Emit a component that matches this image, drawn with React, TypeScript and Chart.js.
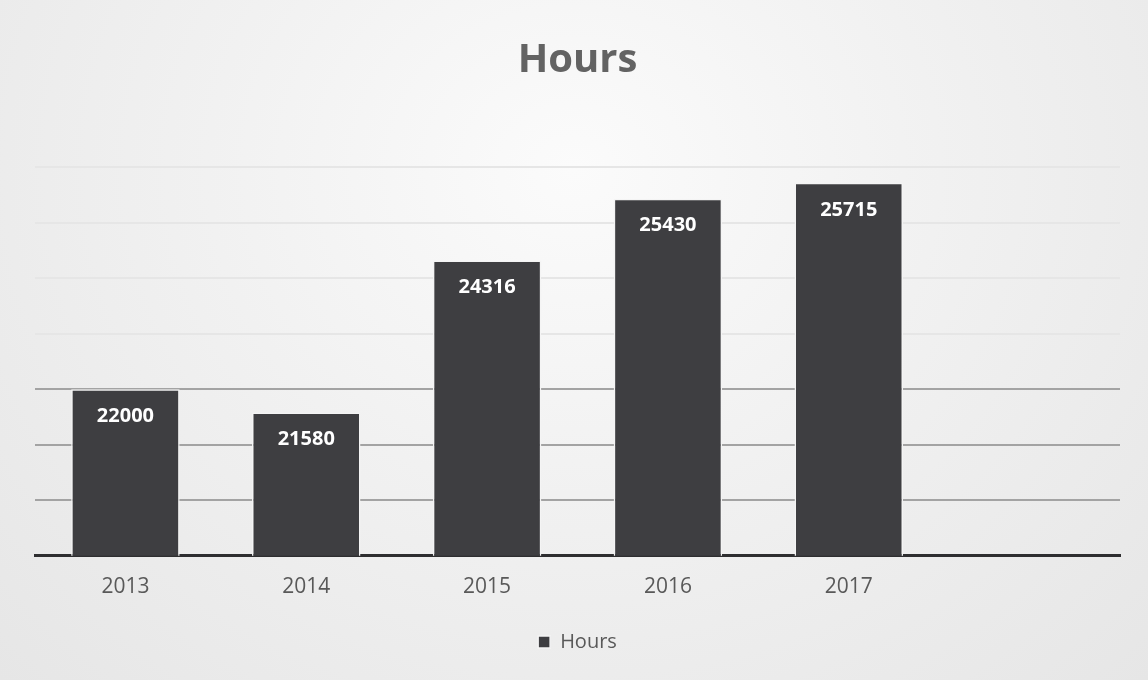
import React, { useEffect, useRef } from "react";
import { Chart, registerables } from "chart.js";

Chart.register(...registerables);

const categories: string[] = ["2013", "2014", "2015", "2016", "2017", ""];
const hoursValues: (number | null)[] = [22000, 21580, 24316, 25430, 25715, null];
const seriesName = "Hours";
const chartTitle = "Hours";
const axisMin = 19000;
const axisMax = 26000;
const axisStep = 1000;

const FONT = "'Open Sans', 'DejaVu Sans', sans-serif";

const dataLabelPlugin = {
  id: "barValueLabels",
  afterDatasetsDraw(chart: any) {
    const ctx = chart.ctx;
    chart.data.datasets.forEach((ds: any, di: number) => {
      const meta = chart.getDatasetMeta(di);
      meta.data.forEach((bar: any, i: number) => {
        const v = ds.data[i];
        if (v === null || v === undefined) return;
        ctx.save();
        ctx.fillStyle = "#ffffff";
        ctx.font = `bold 20px ${FONT}`;
        ctx.textAlign = "center";
        ctx.textBaseline = "middle";
        ctx.fillText(String(v), bar.x, bar.y + 27);
        ctx.restore();
      });
    });
  },
};

export default function App() {
  const canvasRef = useRef<HTMLCanvasElement | null>(null);

  useEffect(() => {
    document.body.style.margin = "0";
    const canvas = canvasRef.current;
    if (!canvas) return;
    const chart = new Chart(canvas, {
      type: "bar",
      data: {
        labels: categories,
        datasets: [
          {
            label: seriesName,
            data: hoursValues,
            backgroundColor: "#3e3e41",
            borderColor: "#f4f4f4",
            borderWidth: 1.5,
            barPercentage: 0.6,
            categoryPercentage: 1,
          },
        ],
      },
      options: {
        animation: false,
        responsive: false,
        maintainAspectRatio: false,
        layout: { padding: { left: 35, right: 28, top: 0, bottom: 18 } },
        plugins: {
          title: {
            display: true,
            text: chartTitle,
            color: "#636363",
            font: { family: FONT, size: 40, weight: "bold" },
            padding: { top: 37, bottom: 82 },
          },
          legend: {
            display: true,
            position: "bottom",
            labels: {
              color: "#595959",
              font: { family: FONT, size: 20 },
              boxWidth: 12,
              boxHeight: 12,
              padding: 10,
            },
          },
          tooltip: { enabled: false },
        },
        scales: {
          x: {
            grid: { display: false },
            border: { display: true, color: "#2e2e30", width: 3 },
            ticks: {
              color: "#595959",
              font: { family: FONT, size: 21 },
              padding: 11,
            },
            afterFit: (axis: any) => {
              axis.height += 11;
            },
          },
          y: {
            min: axisMin,
            max: axisMax,
            ticks: { display: false, stepSize: axisStep },
            border: { display: false },
            grid: {
              drawTicks: false,
              lineWidth: 2,
              color: (c: any) =>
                c.tick && c.tick.value <= 22000 ? "#a3a3a3" : "#e6e6e6",
            },
          },
        },
      },
      plugins: [dataLabelPlugin],
    });
    return () => chart.destroy();
  }, []);

  return (
    <div
      style={{
        position: "relative",
        width: 1148,
        height: 680,
        background:
          "radial-gradient(ellipse at 50% 25%, #fbfbfb 0%, #f1f1f1 45%, #e6e6e6 100%)",
      }}
    >
      <canvas ref={canvasRef} width={1148} height={680} />
    </div>
  );
}
